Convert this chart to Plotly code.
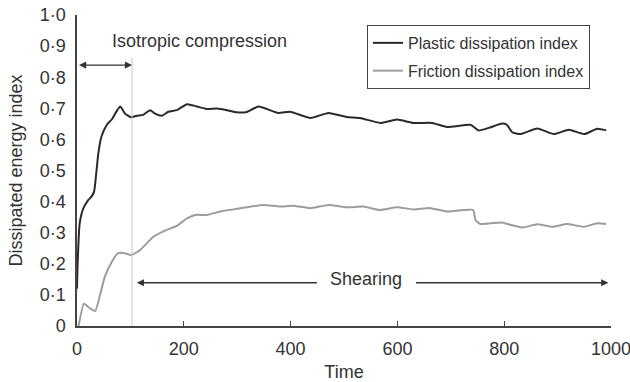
import plotly.graph_objects as go

# ---- data ----
time_plastic = [0, 1, 5, 12, 21, 27, 32, 36, 40, 46, 56, 65, 74, 81, 90, 101, 112, 124, 137, 146,
                159, 171, 187, 206, 224, 243, 262, 281, 299, 318, 340, 377, 399, 437, 471, 505,
                530, 568, 599, 630, 665, 693, 737, 752, 771, 796, 805, 815, 830, 862, 893, 921,
                950, 974, 991]
plastic_index = [0.12, 0.19, 0.33, 0.379, 0.405, 0.416, 0.432, 0.49, 0.556, 0.61, 0.647, 0.664,
                 0.69, 0.706, 0.683, 0.671, 0.676, 0.679, 0.694, 0.683, 0.676, 0.689, 0.694,
                 0.713, 0.706, 0.698, 0.699, 0.694, 0.687, 0.688, 0.706, 0.685, 0.689, 0.669,
                 0.685, 0.672, 0.669, 0.653, 0.664, 0.653, 0.653, 0.64, 0.647, 0.629, 0.637,
                 0.651, 0.647, 0.623, 0.617, 0.635, 0.617, 0.631, 0.617, 0.634, 0.629]

time_friction = [3, 13, 21, 34, 43, 52, 65, 77, 90, 101, 118, 143, 168, 187, 206, 221, 243, 268,
                 293, 318, 349, 380, 405, 437, 471, 505, 537, 568, 599, 630, 662, 693, 724, 742,
                 746, 755, 774, 796, 812, 834, 862, 890, 918, 949, 974, 991]
friction_index = [0.0, 0.072, 0.061, 0.048, 0.099, 0.158, 0.206, 0.234, 0.234, 0.228, 0.244,
                  0.287, 0.309, 0.322, 0.346, 0.357, 0.357, 0.368, 0.375, 0.382, 0.389, 0.384,
                  0.387, 0.379, 0.389, 0.382, 0.384, 0.373, 0.382, 0.375, 0.379, 0.368, 0.373,
                  0.373, 0.341, 0.328, 0.330, 0.333, 0.325, 0.317, 0.327, 0.319, 0.328, 0.319,
                  0.330, 0.328]

x_ticks = [0, 200, 400, 600, 800, 1000]
y_ticks = [0, 0.1, 0.2, 0.3, 0.4, 0.5, 0.6, 0.7, 0.8, 0.9, 1.0]
y_tick_text = ["0", "0·1", "0·2", "0·3", "0·4", "0·5", "0·6", "0·7", "0·8", "0·9", "1·0"]

compression_end = 103
arrow_y_top = 0.839
arrow_y_shear = 0.139

FONT = "Liberation Sans, Arial, sans-serif"
TXT = "#333333"

fig = go.Figure()
fig.add_trace(go.Scatter(x=time_plastic, y=plastic_index, mode="lines",
                         name="Plastic dissipation index", legendgroup="a",
                         line=dict(color="#2a2a2a", width=2, shape="spline", smoothing=0.5)))
fig.add_trace(go.Scatter(x=time_friction, y=friction_index, mode="lines",
                         name="Friction dissipation index", legendgroup="b",
                         line=dict(color="#9c9c9c", width=2, shape="spline", smoothing=0.5)))

# vertical divider
fig.add_shape(type="line", x0=compression_end, x1=compression_end, y0=0, y1=0.864,
              xref="x", yref="y", line=dict(color="#c8c8c8", width=1))

arrow_common = dict(xref="x", yref="y", axref="x", ayref="y", text="", showarrow=True,
                    arrowhead=2, arrowsize=1.1, arrowwidth=1.3, arrowcolor="#333333")
# isotropic compression double arrow
fig.add_annotation(x=compression_end, y=arrow_y_top, ax=1, ay=arrow_y_top,
                   arrowside="end+start", startarrowhead=2, startarrowsize=1.1, **arrow_common)
fig.add_annotation(x=230, y=0.915, text="Isotropic compression", showarrow=False,
                   xref="x", yref="y", font=dict(family=FONT, size=18, color=TXT))
# shearing arrows
fig.add_annotation(x=112, y=arrow_y_shear, ax=452, ay=arrow_y_shear, **arrow_common)
fig.add_annotation(x=995, y=arrow_y_shear, ax=632, ay=arrow_y_shear, **arrow_common)
fig.add_annotation(x=542, y=0.151, text="Shearing", showarrow=False,
                   xref="x", yref="y", font=dict(family=FONT, size=18, color=TXT))

fig.update_layout(
    width=630, height=382,
    margin=dict(l=77, r=19, t=15, b=56),
    paper_bgcolor="white", plot_bgcolor="white",
    font=dict(family=FONT, size=18, color=TXT),
    showlegend=True,
    legend=dict(x=0.543, y=0.968, xanchor="left", yanchor="top",
                bordercolor="#444444", borderwidth=1, bgcolor="white",
                font=dict(family=FONT, size=16, color=TXT), tracegroupgap=4),
    xaxis=dict(range=[0, 1000], tickvals=x_ticks, ticks="inside", ticklen=5,
               tickcolor="#444444", showline=True, linecolor="#444444", linewidth=1.5,
               showgrid=False, zeroline=False, ticklabelstandoff=6,
               ticklabeloverflow="allow", automargin=False,
               title=dict(text="Time", standoff=14, font=dict(size=18))),
    yaxis=dict(range=[0, 1.0], tickvals=y_ticks, ticktext=y_tick_text, ticks="outside",
               ticklen=6, tickcolor="rgba(0,0,0,0)", showline=True, linecolor="#444444",
               linewidth=1.5, showgrid=False, zeroline=False, automargin=False,
               title=dict(text="Dissipated energy index", standoff=12, font=dict(size=18))),
)

fig.write_html("out.html")
